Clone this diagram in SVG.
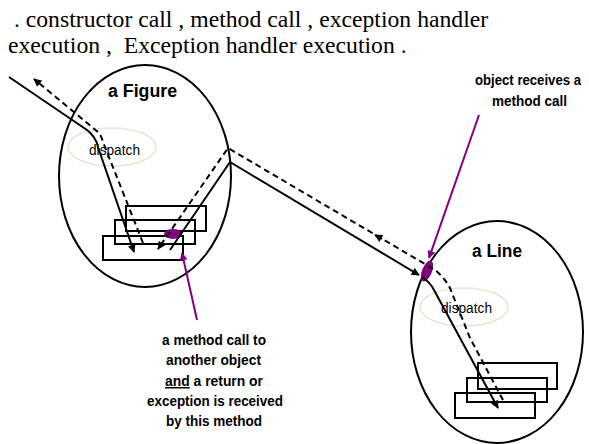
<svg xmlns="http://www.w3.org/2000/svg" width="589" height="444" viewBox="0 0 589 444">
<style>
.hdr{font-family:"Liberation Serif","Times New Roman",serif;font-size:23.7px;fill:#000;white-space:pre}
.obj{fill:none;stroke:#000;stroke-width:2}
.disp{fill:none;stroke:#e9e5d5;stroke-width:1.6}
.dtxt{font-family:"Liberation Sans",Arial,sans-serif;font-size:14px;fill:#000}
.title{font-family:"Liberation Sans",Arial,sans-serif;font-size:18px;font-weight:bold;fill:#000}
.lbl{font-family:"Liberation Sans",Arial,sans-serif;font-size:15px;font-weight:bold;fill:#000}
.lbls{font-family:"Liberation Sans",Arial,sans-serif;font-size:14px;font-weight:bold;fill:#000}
.box{fill:none;stroke:#000;stroke-width:2}
.sol{fill:none;stroke:#000;stroke-width:2}
.dash{fill:none;stroke:#000;stroke-width:2;stroke-dasharray:6 4}
.pur{fill:none;stroke:#800080;stroke-width:2}
.dot{fill:#800080}
</style>
<defs>
<marker id="ah" viewBox="0 0 10 10" refX="9" refY="5" markerWidth="9" markerHeight="8" orient="auto" markerUnits="userSpaceOnUse"><path d="M0,0 L10,5 L0,10 z" fill="#000"/></marker>
<marker id="ahp" viewBox="0 0 10 10" refX="9" refY="5" markerWidth="11" markerHeight="8" orient="auto" markerUnits="userSpaceOnUse"><path d="M0,0 L10,5 L0,10 z" fill="#800080"/></marker>
</defs>
<text class="hdr" x="8" y="27" xml:space="preserve"> . constructor call , method call , exception handler</text>
<text class="hdr" x="8" y="53" xml:space="preserve">execution ,  Exception handler execution .</text>
<g id="figure">
<ellipse class="obj" cx="145" cy="176" rx="86" ry="111"/>
<text class="title" x="108" y="97" textLength="69" lengthAdjust="spacingAndGlyphs">a Figure</text>
<ellipse class="disp" cx="112" cy="147" rx="44" ry="19"/>
<text class="dtxt" x="89" y="155" textLength="51" lengthAdjust="spacingAndGlyphs">dispatch</text>
<rect class="box" x="126" y="206" width="80" height="25"/>
<rect class="box" x="115" y="220" width="80" height="24"/>
<rect class="box" x="103" y="236" width="80" height="24"/>
<ellipse class="dot" cx="173" cy="234" rx="9" ry="5"/>
</g>
<g id="line">
<ellipse class="obj" cx="497" cy="332" rx="86" ry="111"/>
<text class="title" x="472" y="257" textLength="50" lengthAdjust="spacingAndGlyphs">a Line</text>
<ellipse class="disp" cx="464" cy="307" rx="44" ry="19"/>
<text class="dtxt" x="441" y="313" textLength="51" lengthAdjust="spacingAndGlyphs">dispatch</text>
<rect class="box" x="478" y="363" width="79" height="26"/>
<rect class="box" x="467" y="378" width="80" height="24"/>
<rect class="box" x="455" y="393" width="80" height="25"/>
<ellipse class="dot" cx="427" cy="271" rx="5" ry="11" transform="rotate(22 427 271)"/>
</g>
<g id="label-receive">
<text class="lbls" x="475" y="85" textLength="106" lengthAdjust="spacingAndGlyphs">object receives a</text>
<text class="lbls" x="492" y="106" textLength="75" lengthAdjust="spacingAndGlyphs">method call</text>
</g>
<g id="label-call">
<text class="lbl" x="162" y="345" textLength="104" lengthAdjust="spacingAndGlyphs">a method call to</text>
<text class="lbl" x="166" y="365" textLength="95" lengthAdjust="spacingAndGlyphs">another object</text>
<text class="lbl" x="165" y="386" textLength="98" lengthAdjust="spacingAndGlyphs"><tspan text-decoration="underline">and</tspan> a return or</text>
<text class="lbl" x="147" y="406" textLength="136" lengthAdjust="spacingAndGlyphs">exception is received</text>
<text class="lbl" x="166" y="426" textLength="96" lengthAdjust="spacingAndGlyphs">by this method</text>
</g>
<g id="connectors">
<path class="sol" d="M9,77 L87,130 Q96,137 98,147 L134,252" marker-end="url(#ah)"/>
<path class="dash" d="M143,243 L103,142 Q101,135 98,132 L34,79" marker-end="url(#ah)"/>
<path class="sol" d="M170,250 L230,162 L419,275" marker-end="url(#ah)"/>
<path class="dash" d="M503,400 L470,338 L450,288 Q444,277 435,270 L228,148 L158,249" marker-end="url(#ah)"/>
<path class="sol" d="M382,239 L375,235" marker-end="url(#ah)"/>
<path class="sol" d="M422,277 Q430,282 434,290 L498,408" marker-end="url(#ah)"/>
<path class="pur" d="M479,115 L429,258" marker-end="url(#ahp)"/>
<path class="pur" d="M197,320 L182,253" marker-end="url(#ahp)"/>
</g>
</svg>
